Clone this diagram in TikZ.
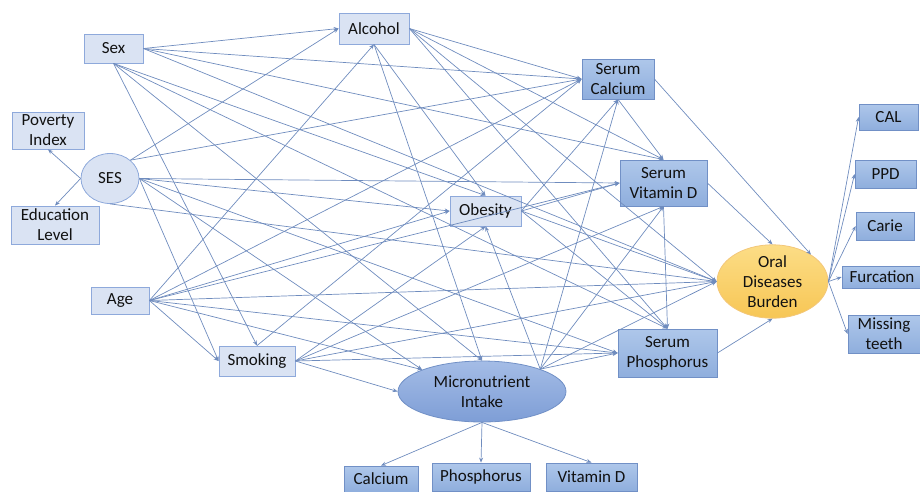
\documentclass[tikz,border=0pt]{standalone}
\usepackage{fontspec}
\setmainfont{Carlito}
\usetikzlibrary{arrows.meta,shapes.geometric}
\definecolor{txt}{HTML}{111111}
\definecolor{lfill}{HTML}{DAE3F3}
\definecolor{lborder}{HTML}{8EA9DB}
\definecolor{dtop}{HTML}{AEC7EA}
\definecolor{dbot}{HTML}{8FAEDD}
\definecolor{dborder}{HTML}{7190C6}
\definecolor{mtop}{HTML}{A4BCE6}
\definecolor{mbot}{HTML}{7E9ED6}
\definecolor{otop}{HTML}{FCDD86}
\definecolor{obot}{HTML}{F7C655}
\definecolor{oborder}{HTML}{F3C77A}
\definecolor{edge}{HTML}{6F8CBE}
\begin{document}
\begin{tikzpicture}[x=1pt,y=-1pt,
  every node/.style={font=\fontsize{17}{20}\selectfont, text=txt, align=center, inner sep=0pt},
  lightbox/.style={rectangle, draw=lborder, fill=lfill, line width=0.8pt},
  darkbox/.style={rectangle, draw=dborder, top color=dtop, bottom color=dbot, line width=0.8pt},
  link/.style={draw=edge, line width=0.7pt, -{Stealth[length=5pt,width=4pt]}},
  box/.style 2 args={minimum width=#1pt, minimum height=#2pt}
]
\useasboundingbox (0,0) rectangle (920,491);

% exposures and confounders
\node[lightbox, box={59}{29}] (sex) at (113.5,48.5) {Sex};
\node[lightbox, box={70}{31}] (alc) at (374,28.5) {Alcohol};
\node[lightbox, box={72}{37}] (pov) at (48,130.5) {Poverty\\Index};
\node[ellipse, draw=lborder, fill=lfill, line width=0.8pt, minimum width=58pt, minimum height=50pt] (ses) at (110,178.5) {SES};
\node[lightbox, box={88}{38}] (edu) at (55,225) {Education\\Level};
\node[lightbox, box={58}{27}] (age) at (120,300.5) {Age};
\node[lightbox, box={76}{30}] (smk) at (257,361) {Smoking};
\node[lightbox, box={71}{30}] (obe) at (485.5,211) {Obesity};

% intake and its components
\node[ellipse, draw=dborder, top color=mtop, bottom color=mbot, line width=0.8pt, minimum width=168pt, minimum height=61pt] (micro) at (482,391.5) {Micronutrient\\Intake};
\node[darkbox, box={74}{26}] (calc) at (381,479) {Calcium};
\node[darkbox, box={98}{28}] (phos) at (481,477) {Phosphorus};
\node[darkbox, box={91}{28}] (vitd) at (591.5,477) {Vitamin D};

% serum markers
\node[darkbox, box={72}{40}] (sca) at (618,79) {Serum\\Calcium};
\node[darkbox, box={87}{46}] (svd) at (663.5,183) {Serum\\Vitamin D};
\node[darkbox, box={99}{48}] (sp) at (667.5,353) {Serum\\Phosphorus};

% outcome and its indicators
\node[ellipse, draw=oborder, top color=otop, bottom color=obot, line width=0.8pt, minimum width=111pt, minimum height=67pt] (oral) at (772.5,281.5) {Oral\\Diseases\\Burden};
\node[darkbox, box={59}{26}] (cal) at (888.5,117) {CAL};
\node[darkbox, box={61}{28}] (ppd) at (885.5,174) {PPD};
\node[darkbox, box={58}{28}] (carie) at (885,226) {Carie};
\node[darkbox, box={80}{22}] (furc) at (882,277) {Furcation};
\node[darkbox, box={72}{38}] (miss) at (884,334) {Missing\\teeth};

% sex
\draw[link] (sex.east) -- (alc.west);
\draw[link] (sex.east) -- (sca.west);
\draw[link] (sex.east) -- (svd.north);
\draw[link] (sex.east) -- (oral.west);
\draw[link] (sex.south) -- (obe.north);
\draw[link] (sex.south) -- (sp.north);
\draw[link] (sex.south) -- (micro.north);
\draw[link] (sex.south) -- (smk.north);
% socioeconomic status
\draw[link] (ses.west) -- (pov.south);
\draw[link] (ses.west) -- (edu.north);
\draw[link] (ses.42) -- (alc.west);
\draw[link] (ses.42) -- (sca.west);
\draw[link] (ses.east) -- (svd.west);
\draw[link] (ses.east) -- (obe.west);
\draw[link] (ses.east) -- (sp.west);
\draw[link] (ses.east) -- (smk.west);
\draw[link] (ses.south) -- (oral.west);
\draw[link] (ses.east) -- (micro.160);
% age
\draw[link] (age.east) -- (alc.south);
\draw[link] (age.east) -- (sca.west);
\draw[link] (age.east) -- (obe.west);
\draw[link] (age.east) -- (svd.west);
\draw[link] (age.east) -- (oral.west);
\draw[link] (age.east) -- (sp.west);
\draw[link] (age.east) -- (micro.160);
\draw[link] (age.east) -- (smk.west);
% alcohol
\draw[link] (alc.east) -- (sca.west);
\draw[link] (alc.east) -- (svd.north);
\draw[link] (alc.east) -- (oral.west);
\draw[link] (alc.east) -- (sp.north);
\draw[link] (alc.south) -- (obe.north);
\draw[link] (alc.south) -- (micro.north);
% smoking
\draw[link] (smk.north) -- (sca.west);
\draw[link] (smk.east) -- (obe.south);
\draw[link] (smk.east) -- (svd.south);
\draw[link] (smk.east) -- (oral.west);
\draw[link] (smk.east) -- (sp.west);
\draw[link] (smk.east) -- (micro.west);
% obesity
\draw[link] (obe.east) -- (sca.south);
\draw[link] (obe.east) -- (svd.west);
\draw[link] (obe.east) -- (oral.west);
\draw[link] (obe.east) -- (sp.north);
% micronutrient intake
\draw[link] (micro.21) -- (obe.south);
\draw[link] (micro.21) -- (sca.south);
\draw[link] (micro.21) -- (svd.south);
\draw[link] (micro.21) -- (sp.west);
\draw[link] (micro.21) -- (oral.west);
\draw[link] (micro.south) -- (calc.north);
\draw[link] (micro.south) -- (phos.north);
\draw[link] (micro.south) -- (vitd.north);
% serum markers
\draw[link] (sca.south) -- (svd.north);
\draw[link] (svd.south) -- (sp.north);
\draw[link] (sca.east) -- (oral.35);
\draw[link] (svd.east) -- (oral.north);
\draw[link] (sp.east) -- (oral.south);
% outcome indicators
\draw[link] (oral.east) -- (cal.west);
\draw[link] (oral.east) -- (ppd.west);
\draw[link] (oral.east) -- (carie.west);
\draw[link] (oral.east) -- (furc.west);
\draw[link] (oral.east) -- (miss.west);
\end{tikzpicture}
\end{document}
